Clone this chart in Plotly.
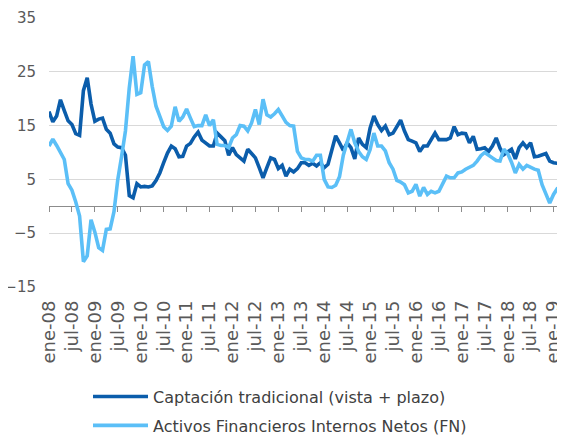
import plotly.graph_objects as go

# Month categories (ene-08 ... abr-19)
meses = ["ene", "feb", "mar", "abr", "may", "jun", "jul", "ago", "sep", "oct", "nov", "dic"]
periodos = [f"{m}-{y:02d}" for y in range(8, 20) for m in meses][:136]

captacion = [
    17.6, 15.7, 16.8, 19.8, 17.8, 15.9, 15.2, 13.5, 13.2, 21.5,
    23.9, 19.0, 15.8, 16.2, 16.4, 14.3, 13.6, 11.6, 11.0, 10.9,
    9.5, 2.0, 1.6, 4.2, 3.6, 3.7, 3.6, 3.8, 4.8, 6.2,
    8.1, 9.9, 11.2, 10.7, 9.2, 9.3, 11.2, 11.7, 12.9, 13.8,
    12.3, 11.8, 11.2, 11.2, 13.6, 12.9, 12.2, 9.5, 10.9, 9.6,
    9.0, 8.4, 10.6, 9.8, 9.0, 7.2, 5.3, 7.2, 9.0, 8.7,
    7.0, 7.6, 5.6, 6.9, 6.4, 7.0, 8.1, 8.1, 7.6, 8.0,
    7.5, 8.1, 7.2, 7.8, 10.6, 13.1, 11.8, 10.4, 11.8, 10.9,
    8.8, 12.7, 11.5, 10.9, 14.5, 16.8, 15.2, 14.1, 14.9, 13.3,
    13.6, 14.9, 16.0, 14.0, 12.4, 12.1, 11.8, 10.2, 11.2, 11.2,
    12.4, 13.6, 12.4, 12.4, 12.4, 12.7, 14.8, 13.3, 13.6, 13.5,
    11.8, 13.0, 10.6, 10.7, 10.9, 10.2, 11.2, 12.7, 10.8, 9.6,
    10.1, 10.6, 8.8, 10.9, 11.8, 10.9, 11.8, 9.2, 9.3, 9.6,
    9.8, 8.4, 8.1, 8.0, 8.0, 8.2,
]

activos = [
    11.2, 12.5, 11.3, 10.0, 8.7, 4.2, 3.0, 0.8, -1.8, -10.3,
    -9.2, -2.5, -4.8, -7.7, -8.2, -4.3, -4.2, -1.0, 5.0, 9.3,
    14.0, 22.0, 27.9, 20.8, 21.1, 26.3, 26.9, 22.3, 18.6, 16.7,
    14.8, 14.1, 14.9, 18.5, 15.8, 16.6, 18.1, 16.4, 14.8, 15.0,
    15.0, 17.0, 15.0, 16.1, 11.5, 11.3, 11.3, 10.9, 12.7, 13.3,
    15.0, 14.9, 14.0, 15.5, 18.0, 15.2, 19.9, 17.0, 16.6, 17.2,
    18.0, 16.8, 15.6, 15.0, 14.9, 10.2, 9.0, 8.7, 8.7, 8.4,
    9.5, 9.5, 5.0, 3.6, 3.5, 3.9, 5.5, 9.5, 12.0, 14.3,
    11.8, 10.2, 9.2, 8.7, 10.5, 13.6, 11.2, 11.2, 10.3, 8.1,
    6.9, 4.8, 4.5, 4.0, 2.5, 2.8, 4.1, 1.9, 3.5, 2.2,
    2.8, 2.5, 2.8, 4.1, 5.6, 5.3, 5.3, 6.2, 6.4, 6.9,
    7.3, 7.6, 8.4, 9.4, 10.0, 9.4, 9.0, 8.5, 8.4, 10.6,
    9.8, 8.2, 6.2, 7.8, 6.9, 7.6, 7.2, 6.9, 6.7, 4.0,
    2.3, 0.6, 2.2, 3.3, 3.6, 2.2,
]

y_ticks = [-15, -5, 5, 15, 25, 35]
x_ticks = periodos[::6]

nombre_1 = "Captación tradicional (vista + plazo)"
nombre_2 = "Activos Financieros Internos Netos (FN)"

FONT = "DejaVu Sans"
GRAY = "#595959"

fig = go.Figure()
fig.add_trace(go.Scatter(
    x=periodos, y=captacion, name=nombre_1, mode="lines",
    line=dict(color="#0B5DAB", width=3.6), legendgroup="a",
))
fig.add_trace(go.Scatter(
    x=periodos, y=activos, name=nombre_2, mode="lines",
    line=dict(color="#5BBFF7", width=3.6), legendgroup="b",
    xaxis="x2",
))

# The page body has an 8px default margin, so the figure is sized to fit the
# remaining 557x428 viewport.
fig.update_layout(
    width=557, height=428,
    margin=dict(l=41, r=0, t=10, b=149, autoexpand=False),
    paper_bgcolor="white", plot_bgcolor="white",
    font=dict(family=FONT, color=GRAY),
    showlegend=True,
    legend=dict(
        orientation="v", x=0.0756, xanchor="left", y=-0.3445, yanchor="top",
        font=dict(family=FONT, size=16, color="#404040"),
        itemwidth=55, tracegroupgap=5, bgcolor="rgba(0,0,0,0)",
    ),
    xaxis=dict(
        type="category", range=[0, 135], categoryorder="array", categoryarray=periodos,
        tickmode="array", tickvals=x_ticks, ticktext=x_ticks,
        tickangle=-90, tickfont=dict(family=FONT, size=18, color=GRAY),
        showgrid=False, showline=False, zeroline=False, ticks="",
        ticklabelstandoff=9, automargin=False,
    ),
    xaxis2=dict(
        type="category", matches="x", overlaying="x", anchor="free", position=0.3,
        tickmode="array", tickvals=x_ticks, showticklabels=False,
        showgrid=False, zeroline=False, showline=True, linecolor="#8C8C8C", linewidth=1.3,
        ticks="outside", ticklen=5, tickcolor="#8C8C8C", tickwidth=1.3,
        layer="below traces", automargin=False,
    ),
    yaxis=dict(
        range=[-15, 35], tickmode="array", tickvals=y_ticks,
        showgrid=True, gridcolor="#D9D9D9", gridwidth=1.2,
        zeroline=False, showline=False, ticks="",
        tickfont=dict(family=FONT, size=15, color=GRAY),
        ticklabelstandoff=12, automargin=False,
    ),
)

fig.write_html("out.html")
